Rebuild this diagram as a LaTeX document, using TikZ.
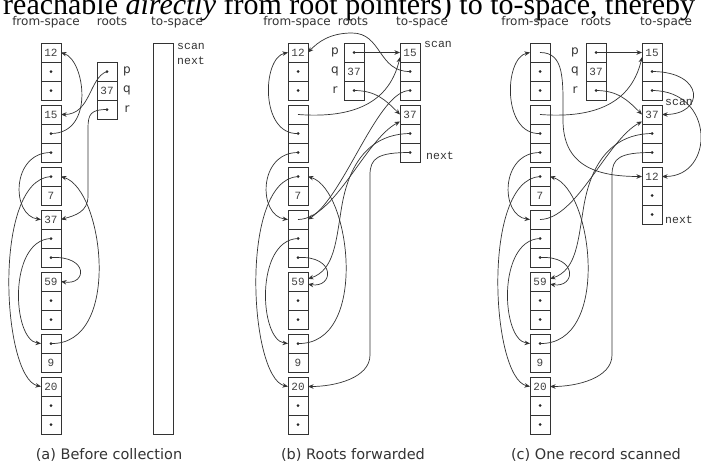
\documentclass[tikz,border=0pt]{standalone}
\usepackage{fontspec}
\setmainfont{DejaVu Sans}
\newfontfamily\monof{Liberation Mono}
\newfontfamily\serift{Liberation Serif}
\usetikzlibrary{arrows.meta}
\tikzset{
 cellbox/.style={draw=black!80, line width=0.7pt, minimum width=20pt, minimum height=19pt, inner sep=0pt, outer sep=0pt, text=black!75, font={\monof\fontsize{11}{13}\selectfont}},
 ptr/.style={draw=black!80, line width=0.7pt, -{Stealth[length=5.5pt,width=4.5pt]}},
 hdr/.style={anchor=base, text=black!80, inner sep=0pt, font={\fontsize{12}{14}\selectfont}},
 captxt/.style={anchor=base, text=black!80, inner sep=0pt, font={\fontsize{14.5}{17}\selectfont}},
 rootlbl/.style={text=black!80, inner sep=0pt, font={\fontsize{12}{14}\selectfont}},
 ptrlbl/.style={anchor=west, text=black!80, inner sep=0pt, font={\monof\fontsize{11.5}{13}\selectfont}},
 bar/.style={draw=black!80, line width=0.7pt, minimum width=20pt, minimum height=391pt, inner sep=0pt},
}
\newcommand\D{\tikz\fill[black!85] (0,0) circle (1.5pt);}
\newcommand\recthree[6]{%
 \node[cellbox] (#1-1) at (#2,#3) {#4};
 \node[cellbox] (#1-2) at (#2,#3+19) {#5};
 \node[cellbox] (#1-3) at (#2,#3+38) {#6};}
\newcommand\rectwo[5]{%
 \node[cellbox] (#1-1) at (#2,#3) {#4};
 \node[cellbox] (#1-2) at (#2,#3+19) {#5};}
\begin{document}
\begin{tikzpicture}[x=1pt,y=-1pt]
\useasboundingbox (0,0) rectangle (701,463);
\fill[white] (0,0) rectangle (701,463);
\clip (0,0) rectangle (701,463);
\node[anchor=base west, inner sep=0pt, text depth=0pt, text height=8pt, font={\serift\fontsize{30}{34}\selectfont}] (topline) at (3,14.5) {reachable \textit{directly} from root pointers) to to-space, thereby};

% headers
\node[hdr] (ha1) at (46,25.5) {from-space};
\node[hdr] (ha2) at (112,25.5) {roots};
\node[hdr] (ha3) at (177,25.5) {to-space};
\node[hdr] (hb1) at (297,25.5) {from-space};
\node[hdr] (hb2) at (353,25.5) {roots};
\node[hdr] (hb3) at (422,25.5) {to-space};
\node[hdr] (hc1) at (535,25.5) {from-space};
\node[hdr] (hc2) at (596,25.5) {roots};
\node[hdr] (hc3) at (666,25.5) {to-space};

% captions
\node[captxt] (capa) at (109,459) {(a) Before collection};
\node[captxt] (capb) at (353,459) {(b) Roots forwarded};
\node[captxt] (capc) at (596,459) {(c) One record scanned};

% ---------- panel (a)
\recthree{aA}{51}{52.5}{12}{\D}{\D}
\recthree{aB}{51}{114.5}{15}{\D}{\D}
\rectwo{aC}{51}{176.5}{\D}{7}
\recthree{aD}{51}{219.5}{37}{\D}{\D}
\recthree{aE}{51}{281.5}{59}{\D}{\D}
\rectwo{aF}{51}{343.5}{\D}{9}
\recthree{aG}{51}{386.5}{20}{\D}{\D}
\recthree{aR}{107}{71.5}{\D}{37}{\D}
\node[bar] (aT) at (163,238.5) {};
\node[rootlbl] (aLp) at (127,71.5) {p};
\node[rootlbl] (aLq) at (127,90.5) {q};
\node[rootlbl] (aLr) at (127,109.5) {r};
\node[ptrlbl] (aScan) at (177,46.5) {scan};
\node[ptrlbl] (aNext) at (177,60.5) {next};

\draw[ptr] (aR-1.center) .. controls +(-18,6) and +(30,0) .. (aB-1.east);
\draw[ptr] (aB-2.center) .. controls +(44,0) and +(24,8) .. (aA-1.east);
\draw[ptr] (aB-3.center) .. controls +(-40,0) and +(-30,-4) .. (aD-1.west);
\draw[ptr] (aC-1.center) .. controls (-8,180) and (2,378) .. (aG-1.west);
\draw[ptr] (aD-2.center) .. controls (8,240) and (12,340) .. (aF-1.west);
\draw[ptr] (aD-3.center) .. controls +(38,-2) and +(26,4) .. (aE-1.east);
\draw[ptr] (aF-1.center) .. controls (122,345) and (104,190) .. (aC-1.east);
\draw[ptr] (aR-3.center) .. controls +(-16,0) and +(0,-14) .. (88,128) -- (88,196) .. controls +(0,16) and +(14,-4) .. (aD-1.east);

% ---------- panel (b)
\recthree{bA}{298}{52.5}{12}{\D}{\D}
\recthree{bB}{298}{114.5}{}{\D}{\D}
\rectwo{bC}{298}{176.5}{\D}{7}
\recthree{bD}{298}{219.5}{}{\D}{\D}
\recthree{bE}{298}{281.5}{59}{\D}{\D}
\rectwo{bF}{298}{343.5}{\D}{9}
\recthree{bG}{298}{386.5}{20}{\D}{\D}
\recthree{bR}{354}{52.5}{\D}{37}{\D}
\recthree{bS}{410}{52.5}{15}{\D}{\D}
\recthree{bU}{410}{114.5}{37}{\D}{\D}
\node[rootlbl] (bLp) at (335,52.5) {p};
\node[rootlbl] (bLq) at (335,71.5) {q};
\node[rootlbl] (bLr) at (335,90.5) {r};
\node[ptrlbl] (bScan) at (424,44) {scan};
\node[ptrlbl] (bNext) at (426,156) {next};

\draw[ptr] (bR-1.center) -- (bS-1.west);
\draw[ptr] (bR-3.center) .. controls +(22,0) and +(-14,-14) .. (bU-1.west);
\draw[ptr] (bB-1.center) .. controls (345,118) and (388,108) .. (bS-1.205);
\draw[ptr] (bD-1.center) .. controls (335,219) and (365,140) .. (bU-1.215);
\draw[ptr] (bS-2.center) .. controls (378,72) and (382,33) .. (352,33) .. controls (330,33) and (318,42) .. (bA-1.east);
\draw[ptr] (bS-3.center) .. controls (378,90) and (345,195) .. (bD-1.east);
\draw[ptr] (bU-2.center) .. controls (372,134) and (350,160) .. (342,205) .. controls (336,240) and (335,270) .. (bE-1.15);
\draw[ptr] (bU-3.center) .. controls (378,152.5) and (370,158) .. (370,175) -- (370,355) .. controls (370,378) and (335,386.5) .. (bG-1.east);
\draw[ptr] (bB-2.center) .. controls (260,135) and (262,58) .. (bA-1.west);
\draw[ptr] (bB-3.center) .. controls +(-40,0) and +(-30,-4) .. (bD-1.west);
\draw[ptr] (bC-1.center) .. controls (239,180) and (249,378) .. (bG-1.west);
\draw[ptr] (bD-2.center) .. controls (255,240) and (259,340) .. (bF-1.west);
\draw[ptr] (bD-3.center) .. controls +(38,-2) and +(26,4) .. (bE-1.345);
\draw[ptr] (bF-1.center) .. controls (369,345) and (351,190) .. (bC-1.east);

% ---------- panel (c)
\recthree{cA}{540}{52.5}{}{\D}{\D}
\recthree{cB}{540}{114.5}{}{\D}{\D}
\rectwo{cC}{540}{176.5}{\D}{7}
\recthree{cD}{540}{219.5}{}{\D}{\D}
\recthree{cE}{540}{281.5}{59}{\D}{\D}
\rectwo{cF}{540}{343.5}{\D}{9}
\recthree{cG}{540}{386.5}{20}{\D}{\D}
\recthree{cR}{596}{52.5}{\D}{37}{\D}
\recthree{cS}{652}{52.5}{15}{\D}{\D}
\recthree{cU}{652}{114.5}{37}{\D}{\D}
\recthree{cV}{652}{176.5}{12}{\D}{\D}
\node[rootlbl] (cLp) at (575,52.5) {p};
\node[rootlbl] (cLq) at (575,71.5) {q};
\node[rootlbl] (cLr) at (575,90.5) {r};
\node[ptrlbl] (cScan) at (665,102) {scan};
\node[ptrlbl] (cNext) at (665,220) {next};

\draw[ptr] (cR-1.center) -- (cS-1.west);
\draw[ptr] (cR-3.center) .. controls +(22,0) and +(-14,-14) .. (cU-1.west);
\draw[ptr] (cB-1.center) .. controls (587,118) and (630,108) .. (cS-1.205);
\draw[ptr] (cD-1.center) .. controls (577,219) and (607,140) .. (cU-1.215);
\draw[ptr] (cA-1.center) .. controls (565,52.5) and (563,80) .. (563,120) .. controls (563,165) and (595,176.5) .. (cV-1.west);
\draw[ptr] (cS-2.center) .. controls (705,71.5) and (705,114.5) .. (cU-1.east);
\draw[ptr] (cS-3.center) .. controls (715,90.5) and (715,176.5) .. (cV-1.east);
\draw[ptr] (cU-2.center) .. controls (614,134) and (592,160) .. (584,205) .. controls (578,240) and (577,270) .. (cE-1.15);
\draw[ptr] (cU-3.center) .. controls (620,152.5) and (612,158) .. (612,175) -- (612,355) .. controls (612,378) and (577,386.5) .. (cG-1.east);
\draw[ptr] (cB-2.center) .. controls (502,135) and (504,58) .. (cA-1.west);
\draw[ptr] (cB-3.center) .. controls +(-40,0) and +(-30,-4) .. (cD-1.west);
\draw[ptr] (cC-1.center) .. controls (481,180) and (491,378) .. (cG-1.west);
\draw[ptr] (cD-2.center) .. controls (497,240) and (501,340) .. (cF-1.west);
\draw[ptr] (cD-3.center) .. controls +(38,-2) and +(26,4) .. (cE-1.345);
\draw[ptr] (cF-1.center) .. controls (611,345) and (593,190) .. (cC-1.east);
\end{tikzpicture}
\end{document}
